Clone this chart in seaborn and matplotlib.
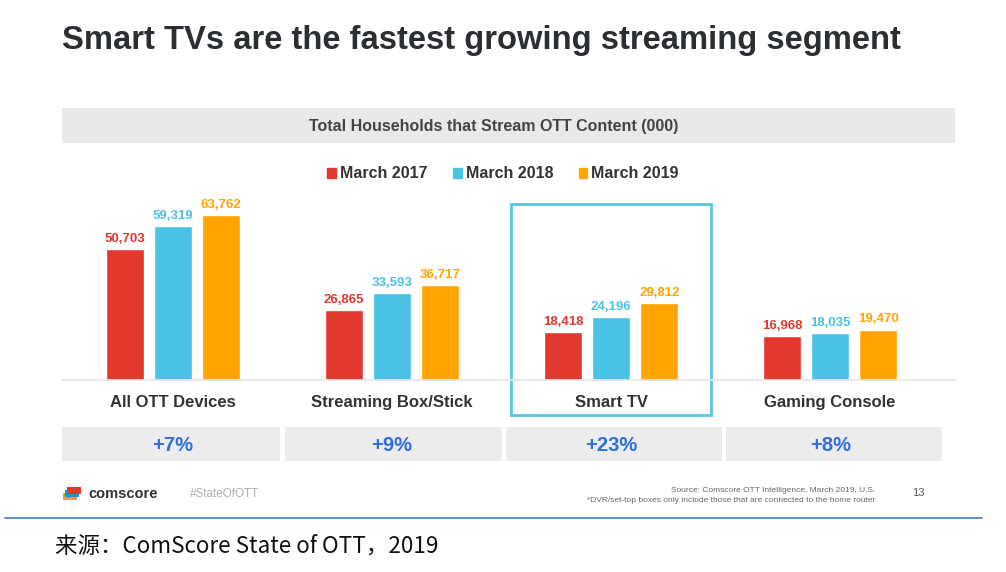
#smart tv streaming chart
import numpy as np
import pandas as pd
import seaborn as sns
import matplotlib.pyplot as plt
from matplotlib.patches import Rectangle
import matplotlib.transforms as mtrans

categories = ["All OTT Devices", "Streaming Box/Stick", "Smart TV", "Gaming Console"]
years = ["March 2017", "March 2018", "March 2019"]
mar2017 = [50703, 26865, 18418, 16968]
mar2018 = [59319, 33593, 24196, 18035]
mar2019 = [63762, 36717, 29812, 19470]
growth = ["+7%", "+9%", "+23%", "+8%"]
highlight = "Smart TV"

colors = ["#E2382D", "#4BC3E6", "#FFA400"]

df = pd.DataFrame({
    "category": categories * 3,
    "year": [years[0]] * 4 + [years[1]] * 4 + [years[2]] * 4,
    "value": mar2017 + mar2018 + mar2019,
})

sns.set_theme(style="white")
plt.rcParams['font.family'] = ['Liberation Sans', 'DejaVu Sans']

W, H = 1006, 572
fig = plt.figure(figsize=(W / 100, H / 100), dpi=100)
fig.patch.set_facecolor("white")

def fx(px):
    return px / W

def fy(py):
    return 1 - py / H

# main bar axes: x 62..955 px, baseline at 380, top 204
ax = fig.add_axes([fx(62), fy(380), fx(955) - fx(62), fy(204) - fy(380)])
sns.barplot(data=df, x="category", y="value", hue="year", palette=colors,
            width=0.66, gap=0.21, ax=ax, legend=False, saturation=1)
ax.set_xlim(-0.507, 3.57)
ax.set_ylim(0, 68000)
for cont, c in zip(ax.containers, colors):
    ax.bar_label(cont, labels=[f"{v:,.0f}" for v in cont.datavalues],
                 color=c, fontsize=9.5, fontweight="bold", padding=3)
for s in ["top", "left", "right"]:
    ax.spines[s].set_visible(False)
ax.spines["bottom"].set_color("#e4e4e4")
ax.spines["bottom"].set_linewidth(1.2)
ax.set_yticks([])
ax.set_xlabel("")
ax.set_ylabel("")
ax.tick_params(axis="x", length=0, pad=11)
for t in ax.get_xticklabels():
    t.set_fontsize(12)
    t.set_fontweight("bold")
    t.set_color("#333333")
ax.patch.set_alpha(0)

# highlight box around smart tv
i = categories.index(highlight)
tr = mtrans.blended_transform_factory(ax.transData, ax.transAxes)
ax.add_patch(Rectangle((i - 0.457, -0.199), 0.914, 1.199, transform=tr,
                       fill=False, edgecolor="#5BC4E0", lw=2, clip_on=False))

# growth row
ax2 = fig.add_axes([fx(62), fy(461), fx(955) - fx(62), fy(427) - fy(461)])
ax2.set_xlim(-0.507, 3.57)
ax2.set_ylim(0, 1)
ax2.axis("off")
edges = [-0.507, 0.505, 1.51, 2.515, 3.52]
for k, g in enumerate(growth):
    ax2.add_patch(Rectangle((edges[k] + (0.008 if k else 0), 0),
                            edges[k + 1] - edges[k] - 0.016, 1,
                            facecolor="#ececec", edgecolor="none"))
    ax2.text(k, 0.47, g, ha="center", va="center", fontsize=14.5,
             fontweight="bold", color="#2F6FE0")

# title and header band
fig.text(fx(62), fy(40), "Smart TVs are the fastest growing streaming segment",
         fontsize=23.6, fontweight="bold", color="#2b2e33", va="center")
fig.patches.append(Rectangle((fx(62), fy(143)), fx(955) - fx(62), fy(108) - fy(143),
                             transform=fig.transFigure, facecolor="#e9e9e9",
                             edgecolor="none"))
fig.text(fx(494), fy(126), "Total Households that Stream OTT Content (000)",
         ha="center", va="center", fontsize=11.5, fontweight="bold", color="#444444")

# legend
handles = [Rectangle((0, 0), 1, 1, color=c) for c in colors]
leg = fig.legend(handles, years, loc="center", bbox_to_anchor=(fx(503), fy(174)),
                 ncol=3, frameon=False, handlelength=0.55, handleheight=0.55,
                 handletextpad=0.25, columnspacing=1.6,
                 prop={"weight": "bold", "size": 11.5})
for t in leg.get_texts():
    t.set_color("#333333")

# footer
for j, c in enumerate(["#F79A1E", "#2C8FD6", "#E2382D"]):
    fig.patches.append(Rectangle((fx(63 + j * 2), fy(500 - j * 3)), fx(14), fy(487) - fy(494),
                                 transform=fig.transFigure, facecolor=c, edgecolor="none"))
fig.text(fx(88), fy(494), "comscore", fontsize=10.5, fontweight="bold",
         color="#333333", va="center")
fig.text(fx(190), fy(494), "#StateOfOTT", fontsize=8.5, color="#b0b0b0", va="center")
fig.text(fx(875), fy(491), "Source: Comscore OTT Intelligence, March 2019, U.S.",
         fontsize=6, color="#666666", ha="right", va="center")
fig.text(fx(875), fy(500),
         "*DVR/set-top boxes only include those that are connected to the home router",
         fontsize=6, color="#666666", ha="right", va="center")
fig.text(fx(912), fy(493), "13", fontsize=8, color="#555555", va="center")

fig.add_artist(plt.Line2D([fx(5), fx(982)], [fy(518), fy(518)],
                          color="#3C7DC4", lw=1.2))
fig.text(fx(55), fy(546), "来源：ComScore State of OTT，2019", fontsize=16.2,
         color="#111111", va="center", family=["Noto Sans CJK SC", "DejaVu Sans"])

fig.savefig("out.png", dpi=100)
